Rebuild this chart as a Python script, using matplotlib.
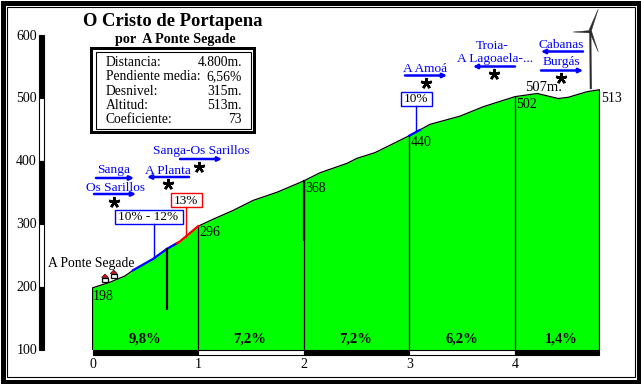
import matplotlib
matplotlib.use('Agg')
import matplotlib.pyplot as plt
from matplotlib.patches import Rectangle, Polygon

# perfil: km / altitud
km = [0, 0.166, 0.308, 0.384, 0.573, 0.705, 0.829, 1, 1.14, 1.33, 1.52, 1.747, 2, 2.154, 2.41, 2.505,
      2.675, 3, 3.196, 3.48, 3.70, 4, 4.21, 4.41, 4.505, 4.685, 4.8]
alt = [198, 207, 217, 226, 244, 260, 272, 296, 307, 321, 337, 350, 368, 381, 396, 404,
       413, 440, 458, 471, 486, 502, 507, 499, 501, 510, 513]

marks_km = [1, 2, 3, 4]
marks_alt = [296, 368, 440, 502]
slopes = ['9,8%', '7,2%', '7,2%', '6,2%', '1,4%']
slope_km = [0.497, 1.49, 2.49, 3.5, 4.44]

blue_km = [0.384, 0.573, 0.705, 0.8]
blue_alt = [226, 244, 260, 269]
red_km = [0.8, 0.829, 1]
red_alt = [269, 272, 296]
blue2_km = [3, 3.1]
blue2_alt = [440, 449]

yticks = [100, 200, 300, 400, 500, 600]
xticks = [0, 1, 2, 3, 4]

stats = [('Distancia:', '4.800m.'), ('Pendiente media:', '6,56%'), ('Desnivel:', '315m.'),
         ('Altitud:', '513m.'), ('Coeficiente:', '73')]

W, H = 641, 384
SERIF = 'Liberation Serif'
BLUE = '#0000ff'
RED = '#ff0000'
GREEN = '#00ff00'

fig = plt.figure(figsize=(W / 100, H / 100), dpi=100, facecolor='white')

# capa en pixeles para marco y rotulos
px = fig.add_axes([0, 0, 1, 1], zorder=3)
px.set_xlim(0, W)
px.set_ylim(H, 0)
px.axis('off')
px.patch.set_alpha(0)

# ejes del perfil
ax = fig.add_axes([92.5 / W, 1 - 349.5 / H, 507 / W, 314.5 / H], zorder=2)
ax.set_xlim(0, 4.8)
ax.set_ylim(100, 600)
ax.axis('off')
ax.patch.set_alpha(0)

ax.fill_between(km, 100, alt, color=GREEN, lw=0)
ax.plot([0] + km + [4.8], [100] + alt + [100], color='black', lw=0.9)
for k, a in zip(marks_km, marks_alt):
    ax.plot([k, k], [100, a], color='black', lw=0.9)
ax.plot(blue_km, blue_alt, color=BLUE, lw=1.6)
ax.plot(red_km, red_alt, color=RED, lw=1.6)
ax.plot(blue2_km, blue2_alt, color=BLUE, lw=1.6)
# palos negros
ax.plot([0.705, 0.705], [165, 260], color='black', lw=1.6)
ax.plot([2, 2], [274, 368], color='black', lw=1.6)

for k, s in zip(slope_km, slopes):
    ax.text(k, 117, s, family=SERIF, weight='bold', fontsize=10.5, ha='center', va='center')


def txt(x, y, s, size=9, color='black', ha='center', weight='normal'):
    px.text(x, y + 1, s, family=SERIF, fontsize=size, color=color, ha=ha, va='center', weight=weight)


# marco exterior
px.add_patch(Rectangle((2.5, 2.5), W - 5, H - 5, fc='none', ec='black', lw=3.6))
px.add_patch(Rectangle((6.5, 6.5), 628.5, 370.5, fc='none', ec='black', lw=0.8))

# barra vertical
for i in range(5):
    fc = 'black' if i % 2 == 0 else 'white'
    px.add_patch(Rectangle((38.5, 35 + i * 62.9), 5, 62.9, fc=fc, ec='black', lw=0.8))
# barra horizontal
for i in range(5):
    fc = 'black' if i % 2 == 0 else 'white'
    x0 = 92.5 + i * 105.6
    wid = 105.6 if i < 4 else 84
    px.add_patch(Rectangle((x0, 350), wid, 4.5, fc=fc, ec='black', lw=0.8))

for t in yticks:
    txt(37, 349.5 - (t - 100) * 0.629, str(t), size=10, ha='right')
for t in xticks:
    txt(92.5 + t * 105.6, 364, str(t), size=10)

# titulo
txt(173, 21, 'O Cristo de Portapena', size=13.4, weight='bold')
txt(175, 38.5, 'por  A Ponte Segade', size=10.2, weight='bold')

# cuadro de datos
px.add_patch(Rectangle((90, 47), 166, 87, fc='black', ec='none'))
px.add_patch(Rectangle((93, 50), 160, 81, fc='white', ec='none'))
px.add_patch(Rectangle((95.5, 52), 155, 77, fc='white', ec='black', lw=0.8))
for i, (a, b) in enumerate(stats):
    y = 61.7 + i * 14.3
    txt(105.5, y, a, size=9.8, ha='left')
    txt(242, y, b, size=9.8, ha='right')


def arrow(x0, x1, y):
    px.annotate('', xy=(x1, y), xytext=(x0, y),
                arrowprops=dict(arrowstyle='-|>', color=BLUE, lw=1.8, mutation_scale=6, shrinkA=0, shrinkB=0))


def star(x, y):
    px.plot([x], [y], marker=(5, 2, 0), ms=8, mew=1.8, color='black', ls='none')


blue_labels = [('Sanga-Os Sarillos', 201, 150), ('Sanga', 114, 169), ('A Planta', 168, 170),
               ('Os Sarillos', 116, 187), ('A Amoá', 425, 68), ('Troia-', 492, 45),
               ('A Lagoaela-...', 495, 58), ('Cabanas', 561, 44), ('Burgás', 561, 61)]
for s, x, y in blue_labels:
    txt(x, y, s, size=9.6, color=BLUE)

arrow(180, 222, 159)
arrow(96, 134, 178)
arrow(189, 147, 177)
arrow(94, 136, 194)
arrow(405, 447, 75.5)
arrow(515, 473, 66.5)
arrow(583, 541, 51.5)
arrow(541, 583, 70.5)

for x, y in [(199, 167), (168, 184), (114, 201.5), (426, 83), (494, 73.5), (561, 77.5)]:
    star(x, y)


# cajas de pendiente
def box(x0, y0, x1, y1, s, c, x_line, y_line):
    px.add_patch(Rectangle((x0, y0), x1 - x0, y1 - y0, fc='white', ec=c, lw=1))
    px.plot([x_line, x_line], [y1, y_line], color=c, lw=1)
    txt((x0 + x1) / 2, (y0 + y1) / 2, s, size=9.5)


box(114.5, 209.5, 182.5, 223.5, '10% - 12%', BLUE, 153.5, 258)
box(170.5, 192.5, 201.5, 206.5, '13%', RED, 185.5, 237)
box(400.5, 91.5, 431.5, 105.5, '10%', BLUE, 415.5, 131)

# rotulos de altitud
txt(92.5, 295, '198', size=10, ha='left')
txt(199, 232, '296', size=10, ha='left')
txt(305, 187, '368', size=10, ha='left')
txt(411, 141, '440', size=10, ha='left')
txt(516, 103, '502', size=10, ha='left')
txt(601, 97, '513', size=10, ha='left')
txt(544, 86.5, '507m.', size=10.5)
txt(91.5, 262, 'A Ponte Segade', size=9.8)

# casas
for x, y in [(105, 279.5), (113.7, 275.5)]:
    px.add_patch(Rectangle((x - 3, y - 2), 6, 4, fc='white', ec='black', lw=0.9))
    px.add_patch(Polygon([(x - 3.5, y - 2), (x, y - 5.5), (x + 3.5, y - 2)], fc=RED, ec='black', lw=0.4))

# molino
c = '#2a2a2a'
px.plot([590.3, 590.8], [32, 88], color=c, lw=1.5)
px.add_patch(Polygon([(589, 30), (591, 32), (598.3, 9)], fc=c, ec=c, lw=0.3))
px.add_patch(Polygon([(590.5, 30.5), (590.5, 33), (573, 32)], fc=c, ec=c, lw=0.3))
px.add_patch(Polygon([(589.5, 32), (591.5, 31), (598.3, 52)], fc=c, ec=c, lw=0.3))

fig.savefig('out.png', dpi=100, facecolor='white')
